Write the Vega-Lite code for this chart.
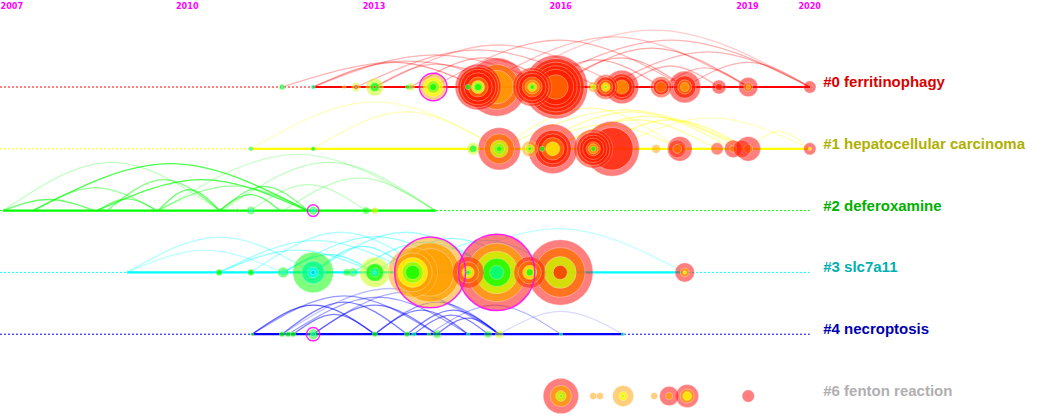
{
"$schema":"https://vega.github.io/schema/vega-lite/v6.json",
"width":1052,"height":420,"autosize":{"type":"none"},"padding":0,
"background":"white",
"config":{"view":{"stroke":null},"axis":{"grid":false}},
"datasets":{
"dash":[{"c":0,"x0":2007,"x1":2020.01},{"c":1,"x0":2007,"x1":2020.01},{"c":2,"x0":2007,"x1":2020.01},{"c":3,"x0":2007,"x1":2020.01},{"c":4,"x0":2007,"x1":2020.01}],
"solid":[{"c":0,"x0":2012.03,"x1":2020.01},{"c":1,"x0":2011.03,"x1":2020.01},{"c":2,"x0":2007.05,"x1":2014.0},{"c":3,"x0":2009.04,"x1":2018.0},{"c":4,"x0":2011.05,"x1":2017.01}],
"arcs":[
{"a":"a1","c":0,"x":2011.53,"y":0,"s":0.3},{"a":"a1","c":0,"x":2013.52,"y":-0.42,"s":0.3},{"a":"a1","c":0,"x":2015.51,"y":0,"s":0.3},
{"a":"a2","c":0,"x":2012.03,"y":0,"s":0.4},{"a":"a2","c":0,"x":2013.35,"y":-0.40,"s":0.4},{"a":"a2","c":0,"x":2014.68,"y":0,"s":0.4},
{"a":"a3","c":0,"x":2012.03,"y":0,"s":0.3},{"a":"a3","c":0,"x":2013.98,"y":-0.52,"s":0.3},{"a":"a3","c":0,"x":2015.93,"y":0,"s":0.3},
{"a":"a4","c":0,"x":2012.72,"y":0,"s":0.3},{"a":"a4","c":0,"x":2014.68,"y":-0.60,"s":0.3},{"a":"a4","c":0,"x":2016.64,"y":0,"s":0.3},
{"a":"a5","c":0,"x":2013.02,"y":0,"s":0.25},{"a":"a5","c":0,"x":2015.01,"y":-0.68,"s":0.25},{"a":"a5","c":0,"x":2016.99,"y":0,"s":0.25},
{"a":"a6","c":0,"x":2013.60,"y":0,"s":0.35},{"a":"a6","c":0,"x":2014.77,"y":-0.47,"s":0.35},{"a":"a6","c":0,"x":2015.93,"y":0,"s":0.35},
{"a":"a7","c":0,"x":2013.96,"y":0,"s":0.3},{"a":"a7","c":0,"x":2015.98,"y":-0.76,"s":0.3},{"a":"a7","c":0,"x":2018.00,"y":0,"s":0.3},
{"a":"a8","c":0,"x":2014.68,"y":0,"s":0.25},{"a":"a8","c":0,"x":2016.85,"y":-0.81,"s":0.25},{"a":"a8","c":0,"x":2019.02,"y":0,"s":0.25},
{"a":"a9","c":0,"x":2014.98,"y":0,"s":0.2},{"a":"a9","c":0,"x":2017.50,"y":-0.92,"s":0.2},{"a":"a9","c":0,"x":2020.01,"y":0,"s":0.2},
{"a":"a10","c":0,"x":2015.55,"y":0,"s":0.3},{"a":"a10","c":0,"x":2017.78,"y":-0.76,"s":0.3},{"a":"a10","c":0,"x":2020.01,"y":0,"s":0.3},
{"a":"a11","c":0,"x":2015.93,"y":0,"s":0.35},{"a":"a11","c":0,"x":2017.47,"y":-0.63,"s":0.35},{"a":"a11","c":0,"x":2019.02,"y":0,"s":0.35},
{"a":"a12","c":0,"x":2015.93,"y":0,"s":0.35},{"a":"a12","c":0,"x":2016.97,"y":-0.47,"s":0.35},{"a":"a12","c":0,"x":2018.00,"y":0,"s":0.35},
{"a":"a13","c":0,"x":2016.73,"y":0,"s":0.3},{"a":"a13","c":0,"x":2018.37,"y":-0.57,"s":0.3},{"a":"a13","c":0,"x":2020.01,"y":0,"s":0.3},
{"a":"a14","c":0,"x":2016.99,"y":0,"s":0.3},{"a":"a14","c":0,"x":2017.77,"y":-0.34,"s":0.3},{"a":"a14","c":0,"x":2018.55,"y":0,"s":0.3},
{"a":"a15","c":0,"x":2018.00,"y":0,"s":0.3},{"a":"a15","c":0,"x":2019.01,"y":-0.40,"s":0.3},{"a":"a15","c":0,"x":2020.01,"y":0,"s":0.3},
{"a":"a16","c":0,"x":2017.62,"y":0,"s":0.3},{"a":"a16","c":0,"x":2018.32,"y":-0.31,"s":0.3},{"a":"a16","c":0,"x":2019.02,"y":0,"s":0.3},
{"a":"a17","c":0,"x":2015.55,"y":0,"s":0.35},{"a":"a17","c":0,"x":2016.58,"y":-0.44,"s":0.35},{"a":"a17","c":0,"x":2017.62,"y":0,"s":0.35},
{"a":"a18","c":0,"x":2013.02,"y":0,"s":0.3},{"a":"a18","c":0,"x":2014.00,"y":-0.37,"s":0.3},{"a":"a18","c":0,"x":2014.98,"y":0,"s":0.3},
{"a":"b1","c":1,"x":2011.03,"y":1,"s":0.25},{"a":"b1","c":1,"x":2013.02,"y":0.24,"s":0.25},{"a":"b1","c":1,"x":2015.02,"y":1,"s":0.25},
{"a":"b2","c":1,"x":2012.03,"y":1,"s":0.25},{"a":"b2","c":1,"x":2013.52,"y":0.40,"s":0.25},{"a":"b2","c":1,"x":2015.02,"y":1,"s":0.25},
{"a":"b3","c":1,"x":2015.02,"y":1,"s":0.35},{"a":"b3","c":1,"x":2017.02,"y":0.37,"s":0.35},{"a":"b3","c":1,"x":2019.02,"y":1,"s":0.35},
{"a":"b4","c":1,"x":2015.51,"y":1,"s":0.35},{"a":"b4","c":1,"x":2017.14,"y":0.40,"s":0.35},{"a":"b4","c":1,"x":2018.78,"y":1,"s":0.35},
{"a":"b5","c":1,"x":2015.88,"y":1,"s":0.4},{"a":"b5","c":1,"x":2017.40,"y":0.47,"s":0.4},{"a":"b5","c":1,"x":2018.92,"y":1,"s":0.4},
{"a":"b6","c":1,"x":2016.53,"y":1,"s":0.4},{"a":"b6","c":1,"x":2017.77,"y":0.53,"s":0.4},{"a":"b6","c":1,"x":2019.02,"y":1,"s":0.4},
{"a":"b7","c":1,"x":2016.83,"y":1,"s":0.25},{"a":"b7","c":1,"x":2018.42,"y":0.50,"s":0.25},{"a":"b7","c":1,"x":2020.01,"y":1,"s":0.25},
{"a":"b8","c":1,"x":2019.02,"y":1,"s":0.25},{"a":"b8","c":1,"x":2019.51,"y":0.72,"s":0.25},{"a":"b8","c":1,"x":2020.01,"y":1,"s":0.25},
{"a":"b9","c":1,"x":2015.88,"y":1,"s":0.35},{"a":"b9","c":1,"x":2017.20,"y":0.53,"s":0.35},{"a":"b9","c":1,"x":2018.52,"y":1,"s":0.35},
{"a":"b10","c":1,"x":2015.02,"y":1,"s":0.3},{"a":"b10","c":1,"x":2016.47,"y":0.34,"s":0.3},{"a":"b10","c":1,"x":2017.92,"y":1,"s":0.3},
{"a":"b11","c":1,"x":2015.51,"y":1,"s":0.35},{"a":"b11","c":1,"x":2016.72,"y":0.61,"s":0.35},{"a":"b11","c":1,"x":2017.92,"y":1,"s":0.35},
{"a":"c1","c":2,"x":2007.05,"y":2,"s":0.6},{"a":"c1","c":2,"x":2007.78,"y":1.82,"s":0.6},{"a":"c1","c":2,"x":2008.51,"y":2,"s":0.6},
{"a":"c2","c":2,"x":2008.56,"y":2,"s":0.5},{"a":"c2","c":2,"x":2009.04,"y":1.81,"s":0.5},{"a":"c2","c":2,"x":2009.52,"y":2,"s":0.5},
{"a":"c3","c":2,"x":2007.53,"y":2,"s":0.7},{"a":"c3","c":2,"x":2009.74,"y":1.24,"s":0.7},{"a":"c3","c":2,"x":2011.95,"y":2,"s":0.7},
{"a":"c4","c":2,"x":2008.56,"y":2,"s":0.7},{"a":"c4","c":2,"x":2010.24,"y":1.50,"s":0.7},{"a":"c4","c":2,"x":2011.93,"y":2,"s":0.7},
{"a":"c5","c":2,"x":2009.54,"y":2,"s":0.6},{"a":"c5","c":2,"x":2010.04,"y":1.66,"s":0.6},{"a":"c5","c":2,"x":2010.53,"y":2,"s":0.6},
{"a":"c6","c":2,"x":2010.53,"y":2,"s":0.6},{"a":"c6","c":2,"x":2011.02,"y":1.74,"s":0.6},{"a":"c6","c":2,"x":2011.50,"y":2,"s":0.6},
{"a":"c7","c":2,"x":2007.05,"y":2,"s":0.25},{"a":"c7","c":2,"x":2008.79,"y":1.22,"s":0.25},{"a":"c7","c":2,"x":2010.53,"y":2,"s":0.25},
{"a":"c8","c":2,"x":2009.57,"y":2,"s":0.2},{"a":"c8","c":2,"x":2011.78,"y":1.09,"s":0.2},{"a":"c8","c":2,"x":2013.99,"y":2,"s":0.2},
{"a":"c9","c":2,"x":2010.57,"y":2,"s":0.25},{"a":"c9","c":2,"x":2012.28,"y":1.22,"s":0.25},{"a":"c9","c":2,"x":2013.99,"y":2,"s":0.25},
{"a":"c10","c":2,"x":2011.55,"y":2,"s":0.25},{"a":"c10","c":2,"x":2012.77,"y":1.47,"s":0.25},{"a":"c10","c":2,"x":2013.99,"y":2,"s":0.25},
{"a":"c11","c":2,"x":2008.72,"y":2,"s":0.5},{"a":"c11","c":2,"x":2009.63,"y":1.50,"s":0.5},{"a":"c11","c":2,"x":2010.53,"y":2,"s":0.5},
{"a":"c12","c":2,"x":2010.53,"y":2,"s":0.5},{"a":"c12","c":2,"x":2011.24,"y":1.61,"s":0.5},{"a":"c12","c":2,"x":2011.95,"y":2,"s":0.5},
{"a":"c13","c":2,"x":2009.52,"y":2,"s":0.4},{"a":"c13","c":2,"x":2010.73,"y":1.60,"s":0.4},{"a":"c13","c":2,"x":2011.95,"y":2,"s":0.4},
{"a":"c14","c":2,"x":2007.53,"y":2,"s":0.35},{"a":"c14","c":2,"x":2008.53,"y":1.63,"s":0.35},{"a":"c14","c":2,"x":2009.52,"y":2,"s":0.35},
{"a":"c15","c":2,"x":2011.02,"y":2,"s":0.25},{"a":"c15","c":2,"x":2011.95,"y":1.58,"s":0.25},{"a":"c15","c":2,"x":2012.88,"y":2,"s":0.25},
{"a":"d1","c":3,"x":2009.04,"y":3,"s":0.3},{"a":"d1","c":3,"x":2010.53,"y":2.43,"s":0.3},{"a":"d1","c":3,"x":2012.03,"y":3,"s":0.3},
{"a":"d2","c":3,"x":2010.52,"y":3,"s":0.35},{"a":"d2","c":3,"x":2012.07,"y":2.48,"s":0.35},{"a":"d2","c":3,"x":2013.62,"y":3,"s":0.35},
{"a":"d3","c":3,"x":2011.03,"y":3,"s":0.3},{"a":"d3","c":3,"x":2012.47,"y":2.35,"s":0.3},{"a":"d3","c":3,"x":2013.91,"y":3,"s":0.3},
{"a":"d4","c":3,"x":2011.55,"y":3,"s":0.4},{"a":"d4","c":3,"x":2013.03,"y":2.42,"s":0.4},{"a":"d4","c":3,"x":2014.52,"y":3,"s":0.4},
{"a":"d5","c":3,"x":2012.03,"y":3,"s":0.35},{"a":"d5","c":3,"x":2013.51,"y":2.35,"s":0.35},{"a":"d5","c":3,"x":2014.98,"y":3,"s":0.35},
{"a":"d6","c":3,"x":2012.67,"y":3,"s":0.45},{"a":"d6","c":3,"x":2013.83,"y":2.51,"s":0.45},{"a":"d6","c":3,"x":2014.98,"y":3,"s":0.45},
{"a":"d7","c":3,"x":2013.02,"y":3,"s":0.4},{"a":"d7","c":3,"x":2014.27,"y":2.45,"s":0.4},{"a":"d7","c":3,"x":2015.51,"y":3,"s":0.4},
{"a":"d8","c":3,"x":2013.91,"y":3,"s":0.25},{"a":"d8","c":3,"x":2015.96,"y":2.29,"s":0.25},{"a":"d8","c":3,"x":2018.00,"y":3,"s":0.25},
{"a":"d9","c":3,"x":2013.62,"y":3,"s":0.35},{"a":"d9","c":3,"x":2014.81,"y":2.48,"s":0.35},{"a":"d9","c":3,"x":2016.00,"y":3,"s":0.35},
{"a":"d10","c":3,"x":2010.52,"y":3,"s":0.4},{"a":"d10","c":3,"x":2011.77,"y":2.64,"s":0.4},{"a":"d10","c":3,"x":2013.02,"y":3,"s":0.4},
{"a":"d11","c":3,"x":2012.03,"y":3,"s":0.5},{"a":"d11","c":3,"x":2012.83,"y":2.58,"s":0.5},{"a":"d11","c":3,"x":2013.63,"y":3,"s":0.5},
{"a":"d12","c":3,"x":2011.55,"y":3,"s":0.5},{"a":"d12","c":3,"x":2012.29,"y":2.71,"s":0.5},{"a":"d12","c":3,"x":2013.02,"y":3,"s":0.5},
{"a":"d13","c":3,"x":2009.04,"y":3,"s":0.25},{"a":"d13","c":3,"x":2010.29,"y":2.64,"s":0.25},{"a":"d13","c":3,"x":2011.55,"y":3,"s":0.25},
{"a":"e1","c":4,"x":2011.05,"y":4,"s":0.6},{"a":"e1","c":4,"x":2012.04,"y":3.53,"s":0.6},{"a":"e1","c":4,"x":2013.02,"y":4,"s":0.6},
{"a":"e2","c":4,"x":2011.05,"y":4,"s":0.4},{"a":"e2","c":4,"x":2012.53,"y":3.38,"s":0.4},{"a":"e2","c":4,"x":2014.02,"y":4,"s":0.4},
{"a":"e3","c":4,"x":2011.53,"y":4,"s":0.5},{"a":"e3","c":4,"x":2012.53,"y":3.48,"s":0.5},{"a":"e3","c":4,"x":2013.54,"y":4,"s":0.5},
{"a":"e4","c":4,"x":2011.63,"y":4,"s":0.4},{"a":"e4","c":4,"x":2013.07,"y":3.40,"s":0.4},{"a":"e4","c":4,"x":2014.52,"y":4,"s":0.4},
{"a":"e5","c":4,"x":2011.71,"y":4,"s":0.5},{"a":"e5","c":4,"x":2012.37,"y":3.68,"s":0.5},{"a":"e5","c":4,"x":2013.02,"y":4,"s":0.5},
{"a":"e6","c":4,"x":2012.03,"y":4,"s":0.5},{"a":"e6","c":4,"x":2013.02,"y":3.53,"s":0.5},{"a":"e6","c":4,"x":2014.02,"y":4,"s":0.5},
{"a":"e7","c":4,"x":2012.03,"y":4,"s":0.3},{"a":"e7","c":4,"x":2013.52,"y":3.32,"s":0.3},{"a":"e7","c":4,"x":2015.02,"y":4,"s":0.3},
{"a":"e8","c":4,"x":2013.02,"y":4,"s":0.5},{"a":"e8","c":4,"x":2013.77,"y":3.61,"s":0.5},{"a":"e8","c":4,"x":2014.52,"y":4,"s":0.5},
{"a":"e9","c":4,"x":2013.02,"y":4,"s":0.4},{"a":"e9","c":4,"x":2014.02,"y":3.48,"s":0.4},{"a":"e9","c":4,"x":2015.02,"y":4,"s":0.4},
{"a":"e10","c":4,"x":2013.54,"y":4,"s":0.5},{"a":"e10","c":4,"x":2014.28,"y":3.61,"s":0.5},{"a":"e10","c":4,"x":2015.02,"y":4,"s":0.5},
{"a":"e11","c":4,"x":2014.02,"y":4,"s":0.5},{"a":"e11","c":4,"x":2014.52,"y":3.74,"s":0.5},{"a":"e11","c":4,"x":2015.02,"y":4,"s":0.5},
{"a":"e12","c":4,"x":2015.02,"y":4,"s":0.15},{"a":"e12","c":4,"x":2016.01,"y":3.63,"s":0.15},{"a":"e12","c":4,"x":2017.01,"y":4,"s":0.15},
{"a":"e13","c":4,"x":2011.53,"y":4,"s":0.25},{"a":"e13","c":4,"x":2013.27,"y":3.26,"s":0.25},{"a":"e13","c":4,"x":2015.02,"y":4,"s":0.25},
{"a":"e14","c":4,"x":2013.89,"y":4,"s":0.3},{"a":"e14","c":4,"x":2014.95,"y":3.53,"s":0.3},{"a":"e14","c":4,"x":2016.01,"y":4,"s":0.3},
{"a":"e15","c":4,"x":2013.65,"y":4,"s":0.5},{"a":"e15","c":4,"x":2014.25,"y":3.69,"s":0.5},{"a":"e15","c":4,"x":2014.84,"y":4,"s":0.5}
],
"rings":[
{"id":"0m","c":0,"x":2015.93,"g":2020,"n":81},{"id":"0m","c":0,"x":2015.93,"g":2019,"n":64},{"id":"0m","c":0,"x":2015.93,"g":2019,"n":49},{"id":"0m","c":0,"x":2015.93,"g":2019,"n":36},{"id":"0m","c":0,"x":2015.93,"g":2019,"n":25},{"id":"0m","c":0,"x":2015.93,"g":2018,"n":12},
{"id":"0k","c":0,"x":2014.98,"g":2020,"n":68.06},{"id":"0k","c":0,"x":2014.98,"g":2018,"n":40},{"id":"0k","c":0,"x":2014.98,"g":2017,"n":22},
{"id":"0j","c":0,"x":2014.68,"g":2020,"n":42.25},{"id":"0j","c":0,"x":2014.68,"g":2019,"n":33},{"id":"0j","c":0,"x":2014.68,"g":2019,"n":25},{"id":"0j","c":0,"x":2014.68,"g":2019,"n":16},{"id":"0j","c":0,"x":2014.68,"g":2018,"n":8},{"id":"0j","c":0,"x":2014.68,"g":2016,"n":3.5},{"id":"0j","c":0,"x":2014.68,"g":2014,"n":2},{"id":"0j","c":0,"x":2014.68,"g":2013,"n":1},
{"id":"0l","c":0,"x":2015.55,"g":2019,"n":30.25},{"id":"0l","c":0,"x":2015.55,"g":2019,"n":22},{"id":"0l","c":0,"x":2015.55,"g":2019,"n":15},{"id":"0l","c":0,"x":2015.55,"g":2018,"n":8},{"id":"0l","c":0,"x":2015.55,"g":2017,"n":4},{"id":"0l","c":0,"x":2015.55,"g":2015,"n":1.56},{"id":"0l","c":0,"x":2015.55,"g":2013,"n":0.39},
{"id":"0p","c":0,"x":2016.99,"g":2020,"n":22.56},{"id":"0p","c":0,"x":2016.99,"g":2019,"n":14.06},{"id":"0p","c":0,"x":2016.99,"g":2019,"n":9},{"id":"0p","c":0,"x":2016.99,"g":2017,"n":4},
{"id":"0r","c":0,"x":2018.00,"g":2020,"n":20.25},{"id":"0r","c":0,"x":2018.00,"g":2019,"n":10},{"id":"0r","c":0,"x":2018.00,"g":2018,"n":4},{"id":"0r","c":0,"x":2018.00,"g":2017,"n":1.56},
{"id":"0h","c":0,"x":2013.96,"g":2017,"n":14.06},{"id":"0h","c":0,"x":2013.96,"g":2016,"n":7.56},{"id":"0h","c":0,"x":2013.96,"g":2014,"n":3.06},{"id":"0h","c":0,"x":2013.96,"g":2013,"n":1.0},
{"id":"0o","c":0,"x":2016.73,"g":2019,"n":12.25},{"id":"0o","c":0,"x":2016.73,"g":2019,"n":8},{"id":"0o","c":0,"x":2016.73,"g":2018,"n":4},{"id":"0o","c":0,"x":2016.73,"g":2016,"n":1.56},{"id":"0o","c":0,"x":2016.73,"g":2014,"n":0.25},
{"id":"0q","c":0,"x":2017.62,"g":2019,"n":9},{"id":"0q","c":0,"x":2017.62,"g":2019,"n":5},{"id":"0q","c":0,"x":2017.62,"g":2018,"n":2.25},
{"id":"0t","c":0,"x":2019.02,"g":2020,"n":7.56},{"id":"0t","c":0,"x":2019.02,"g":2018,"n":1.56},{"id":"0t","c":0,"x":2019.02,"g":2017,"n":0.39},
{"id":"0e","c":0,"x":2013.02,"g":2015,"n":6.25},{"id":"0e","c":0,"x":2013.02,"g":2013,"n":1.56},{"id":"0e","c":0,"x":2013.02,"g":2019,"n":0.14},
{"id":"0s","c":0,"x":2018.55,"g":2020,"n":4},{"id":"0s","c":0,"x":2018.55,"g":2019,"n":1},
{"id":"0u","c":0,"x":2020.01,"g":2020,"n":3.06},
{"id":"0n","c":0,"x":2016.53,"g":2017,"n":2.25},{"id":"0n","c":0,"x":2016.53,"g":2015,"n":0.56},
{"id":"0d","c":0,"x":2012.72,"g":2015,"n":1.56},{"id":"0d","c":0,"x":2012.72,"g":2019,"n":0.39},{"id":"0d","c":0,"x":2012.72,"g":2013,"n":0.06},
{"id":"0g","c":0,"x":2013.60,"g":2015,"n":1.27},{"id":"0g","c":0,"x":2013.60,"g":2019,"n":0.25},{"id":"0g","c":0,"x":2013.60,"g":2013,"n":0.06},
{"id":"0a","c":0,"x":2011.53,"g":2013,"n":0.56},{"id":"0a","c":0,"x":2011.53,"g":2011,"n":0.09},
{"id":"0i","c":0,"x":2014.52,"g":2013,"n":0.56},
{"id":"0b","c":0,"x":2012.03,"g":2012,"n":0.39},
{"id":"0f","c":0,"x":2013.55,"g":2013,"n":0.39},
{"id":"0c","c":0,"x":2012.53,"g":2017,"n":0.25},
{"id":"1i","c":1,"x":2016.83,"g":2020,"n":60.06},{"id":"1i","c":1,"x":2016.83,"g":2019,"n":36},
{"id":"1g","c":1,"x":2015.88,"g":2020,"n":49},{"id":"1g","c":1,"x":2015.88,"g":2019,"n":27.56},{"id":"1g","c":1,"x":2015.88,"g":2019,"n":18},{"id":"1g","c":1,"x":2015.88,"g":2018,"n":10},{"id":"1g","c":1,"x":2015.88,"g":2016,"n":4},
{"id":"1d","c":1,"x":2015.02,"g":2020,"n":36},{"id":"1d","c":1,"x":2015.02,"g":2018,"n":18.06},{"id":"1d","c":1,"x":2015.02,"g":2015,"n":6.25},{"id":"1d","c":1,"x":2015.02,"g":2014,"n":2.25},{"id":"1d","c":1,"x":2015.02,"g":2013,"n":0.56},
{"id":"1h","c":1,"x":2016.53,"g":2019,"n":30.25},{"id":"1h","c":1,"x":2016.53,"g":2019,"n":22},{"id":"1h","c":1,"x":2016.53,"g":2019,"n":15},{"id":"1h","c":1,"x":2016.53,"g":2019,"n":9},{"id":"1h","c":1,"x":2016.53,"g":2018,"n":4},{"id":"1h","c":1,"x":2016.53,"g":2017,"n":2},{"id":"1h","c":1,"x":2016.53,"g":2013,"n":0.5},
{"id":"1l","c":1,"x":2017.92,"g":2020,"n":12.25},{"id":"1l","c":1,"x":2017.92,"g":2018,"n":2.25},
{"id":"1p","c":1,"x":2019.02,"g":2020,"n":12.25},{"id":"1p","c":1,"x":2019.02,"g":2018,"n":1.56},
{"id":"1k","c":1,"x":2017.88,"g":2019,"n":6.25},{"id":"1k","c":1,"x":2017.88,"g":2018,"n":1.56},
{"id":"1n","c":1,"x":2018.78,"g":2020,"n":6.25},{"id":"1n","c":1,"x":2018.78,"g":2018,"n":1},
{"id":"1o","c":1,"x":2018.92,"g":2019,"n":6.25},
{"id":"1e","c":1,"x":2015.51,"g":2017,"n":5.06},{"id":"1e","c":1,"x":2015.51,"g":2015,"n":1.56},{"id":"1e","c":1,"x":2015.51,"g":2013,"n":0.25},
{"id":"1c","c":1,"x":2014.60,"g":2015,"n":3.06},{"id":"1c","c":1,"x":2014.60,"g":2013,"n":1},{"id":"1c","c":1,"x":2014.60,"g":2012,"n":0.14},
{"id":"1m","c":1,"x":2018.52,"g":2019,"n":3.06},
{"id":"1q","c":1,"x":2020.01,"g":2020,"n":3.06},{"id":"1q","c":1,"x":2020.01,"g":2016,"n":0.25},
{"id":"1j","c":1,"x":2017.54,"g":2017,"n":1.56},
{"id":"1f","c":1,"x":2015.71,"g":2013,"n":0.56},
{"id":"1a","c":1,"x":2011.03,"g":2013,"n":0.39},{"id":"1a","c":1,"x":2011.03,"g":2011,"n":0.09},
{"id":"1b","c":1,"x":2012.03,"g":2013,"n":0.39},
{"id":"2c","c":2,"x":2012.03,"g":2013,"n":1.56},{"id":"2c","c":2,"x":2012.03,"g":2011,"n":0.39},
{"id":"2b","c":2,"x":2011.03,"g":2013,"n":1.27},{"id":"2b","c":2,"x":2011.03,"g":2011,"n":0.25},
{"id":"2d","c":2,"x":2012.88,"g":2013,"n":1},
{"id":"2e","c":2,"x":2013.02,"g":2015,"n":0.77},
{"id":"2a","c":2,"x":2010.81,"g":2013,"n":0.25},
{"id":"3k","c":3,"x":2014.98,"g":2020,"n":115.56},{"id":"3k","c":3,"x":2014.98,"g":2017,"n":68.06},{"id":"3k","c":3,"x":2014.98,"g":2015,"n":36},{"id":"3k","c":3,"x":2014.98,"g":2013,"n":16},{"id":"3k","c":3,"x":2014.98,"g":2012,"n":4},
{"id":"3i","c":3,"x":2013.91,"g":2017,"n":100},{"id":"3i","c":3,"x":2013.91,"g":2017,"n":70},{"id":"3i","c":3,"x":2013.91,"g":2017,"n":45},
{"id":"3m","c":3,"x":2016.00,"g":2020,"n":85.56},{"id":"3m","c":3,"x":2016.00,"g":2018,"n":49},{"id":"3m","c":3,"x":2016.00,"g":2015,"n":20.25},{"id":"3m","c":3,"x":2016.00,"g":2019,"n":4},
{"id":"3h","c":3,"x":2013.63,"g":2017,"n":49},{"id":"3h","c":3,"x":2013.63,"g":2017,"n":30},{"id":"3h","c":3,"x":2013.63,"g":2016,"n":18},{"id":"3h","c":3,"x":2013.63,"g":2014,"n":9},{"id":"3h","c":3,"x":2013.63,"g":2013,"n":4},
{"id":"3d","c":3,"x":2012.03,"g":2013,"n":33.06},{"id":"3d","c":3,"x":2012.03,"g":2012,"n":10.56},{"id":"3d","c":3,"x":2012.03,"g":2011,"n":2.25},{"id":"3d","c":3,"x":2012.03,"g":2010,"n":0.39},
{"id":"3j","c":3,"x":2014.52,"g":2019,"n":20.25},{"id":"3j","c":3,"x":2014.52,"g":2018,"n":9},{"id":"3j","c":3,"x":2014.52,"g":2016,"n":3.06},{"id":"3j","c":3,"x":2014.52,"g":2014,"n":1},{"id":"3j","c":3,"x":2014.52,"g":2013,"n":0.25},
{"id":"3l","c":3,"x":2015.51,"g":2019,"n":20.25},{"id":"3l","c":3,"x":2015.51,"g":2018,"n":10.56},{"id":"3l","c":3,"x":2015.51,"g":2016,"n":4},{"id":"3l","c":3,"x":2015.51,"g":2013,"n":1},
{"id":"3g","c":3,"x":2013.02,"g":2015,"n":18.06},{"id":"3g","c":3,"x":2013.02,"g":2013,"n":6.25},{"id":"3g","c":3,"x":2013.02,"g":2012,"n":1.56},{"id":"3g","c":3,"x":2013.02,"g":2011,"n":0.25},
{"id":"3n","c":3,"x":2018.00,"g":2020,"n":7.56},{"id":"3n","c":3,"x":2018.00,"g":2017,"n":1.56},{"id":"3n","c":3,"x":2018.00,"g":2016,"n":0.25},
{"id":"3c","c":3,"x":2011.55,"g":2013,"n":2.25},{"id":"3c","c":3,"x":2011.55,"g":2012,"n":0.77},{"id":"3c","c":3,"x":2011.55,"g":2011,"n":0.14},
{"id":"3f","c":3,"x":2012.67,"g":2013,"n":1.56},{"id":"3f","c":3,"x":2012.67,"g":2011,"n":0.25},
{"id":"3e","c":3,"x":2012.57,"g":2013,"n":1},
{"id":"3a","c":3,"x":2010.52,"g":2013,"n":0.77},
{"id":"3b","c":3,"x":2011.03,"g":2013,"n":0.77},
{"id":"4e","c":4,"x":2012.03,"g":2013,"n":2.25},{"id":"4e","c":4,"x":2012.03,"g":2012,"n":0.56},
{"id":"4j","c":4,"x":2014.02,"g":2013,"n":1.27},
{"id":"4m","c":4,"x":2015.02,"g":2015,"n":1.27},
{"id":"4l","c":4,"x":2014.84,"g":2013,"n":1},
{"id":"4b","c":4,"x":2011.53,"g":2013,"n":0.56},
{"id":"4c","c":4,"x":2011.63,"g":2013,"n":0.56},
{"id":"4d","c":4,"x":2011.71,"g":2013,"n":0.56},
{"id":"4f","c":4,"x":2013.02,"g":2013,"n":0.56},
{"id":"4g","c":4,"x":2013.54,"g":2013,"n":0.56},
{"id":"4h","c":4,"x":2013.65,"g":2012,"n":0.39},
{"id":"4a","c":4,"x":2011.05,"g":2013,"n":0.25},
{"id":"4i","c":4,"x":2013.89,"g":2013,"n":0.25},
{"id":"4k","c":4,"x":2014.52,"g":2012,"n":0.25},
{"id":"4n","c":4,"x":2016.01,"g":2012,"n":0.25},
{"id":"4o","c":4,"x":2017.01,"g":2012,"n":0.25},
{"id":"6a","c":5,"x":2016.01,"g":2020,"n":25},{"id":"6a","c":5,"x":2016.01,"g":2017,"n":9},{"id":"6a","c":5,"x":2016.01,"g":2015,"n":2.25},{"id":"6a","c":5,"x":2016.01,"g":2014,"n":0.25},
{"id":"6g","c":5,"x":2018.04,"g":2020,"n":10.56},{"id":"6g","c":5,"x":2018.04,"g":2017,"n":4},{"id":"6g","c":5,"x":2018.04,"g":2016,"n":1.56},
{"id":"6d","c":5,"x":2017.01,"g":2017,"n":9},{"id":"6d","c":5,"x":2017.01,"g":2016,"n":1.56},{"id":"6d","c":5,"x":2017.01,"g":2015,"n":0.25},
{"id":"6f","c":5,"x":2017.75,"g":2020,"n":7.56},{"id":"6f","c":5,"x":2017.75,"g":2017,"n":1},
{"id":"6h","c":5,"x":2019.02,"g":2020,"n":3.06},
{"id":"6b","c":5,"x":2016.53,"g":2017,"n":1},
{"id":"6c","c":5,"x":2016.64,"g":2017,"n":1},
{"id":"6e","c":5,"x":2017.51,"g":2017,"n":1}
],
"hubs":[{"c":0,"x":2013.96,"n":15.02},{"c":2,"x":2012.03,"n":2.64},{"c":3,"x":2013.91,"n":100},{"c":3,"x":2014.98,"n":115.56},{"c":4,"x":2012.03,"n":3.52}],
"labels":[{"c":0,"t":"#0 ferritinophagy"},{"c":1,"t":"#1 hepatocellular carcinoma"},{"c":2,"t":"#2 deferoxamine"},{"c":3,"t":"#3 slc7a11"},{"c":4,"t":"#4 necroptosis"},{"c":5,"t":"#6 fenton reaction"}]
},
"layer":[
{"data":{"name":"dash"},"mark":{"type":"rule","strokeDash":[2,2],"strokeWidth":1},
 "encoding":{
  "x":{"field":"x0","type":"quantitative","scale":{"domain":[2007,2023.9],"nice":false,"zero":false},
   "axis":{"orient":"top","values":[2007,2010,2013,2016,2019,2020],"format":"d","domain":false,"ticks":false,"grid":false,"labelPadding":-10,"labelColor":"#ff00ff","labelFontWeight":"bold","labelFontSize":9,"labelFont":"Liberation Sans Narrow, DejaVu Sans Condensed, sans-serif","labelFlush":true,"labelOverlap":false,"title":null}},
  "x2":{"field":"x1"},
  "y":{"field":"c","type":"quantitative","scale":{"domain":[-1.408,5.388],"reverse":true,"nice":false,"zero":false},"axis":null},
  "stroke":{"field":"c","type":"nominal","scale":{"domain":[0,1,2,3,4],"range":["#ff0000","#ffff00","#00ff00","#00ffff","#0000ff"]},"legend":null}}},
{"data":{"name":"arcs"},"mark":{"type":"line","interpolate":"natural","strokeWidth":1.3},
 "encoding":{
  "x":{"field":"x","type":"quantitative","scale":{"domain":[2007,2023.9],"nice":false,"zero":false}},
  "y":{"field":"y","type":"quantitative","scale":{"domain":[-1.408,5.388],"reverse":true,"nice":false,"zero":false},"axis":null},
  "detail":{"field":"a"},
  "stroke":{"field":"c","type":"nominal","scale":{"domain":[0,1,2,3,4],"range":["#ff0000","#ffff00","#00ff00","#00ffff","#0000ff"]},"legend":null},
  "opacity":{"field":"s","type":"quantitative","scale":{"domain":[0,1],"range":[0,1]},"legend":null}}},
{"data":{"name":"solid"},"mark":{"type":"rule","strokeWidth":2.2},
 "encoding":{
  "x":{"field":"x0","type":"quantitative","scale":{"domain":[2007,2023.9],"nice":false,"zero":false}},
  "x2":{"field":"x1"},
  "y":{"field":"c","type":"quantitative","scale":{"domain":[-1.408,5.388],"reverse":true,"nice":false,"zero":false},"axis":null},
  "stroke":{"field":"c","type":"nominal","scale":{"domain":[0,1,2,3,4],"range":["#ff0000","#ffff00","#00ff00","#00ffff","#0000ff"]},"legend":null}}},
{"data":{"name":"rings"},
 "transform":[{"joinaggregate":[{"op":"max","field":"n","as":"maxn"}],"groupby":["id"]}],
 "mark":{"type":"point","shape":"circle","filled":true,"stroke":"white","strokeWidth":0.6,"strokeOpacity":0.7},
 "encoding":{
  "x":{"field":"x","type":"quantitative","scale":{"domain":[2007,2023.9],"nice":false,"zero":false}},
  "y":{"field":"c","type":"quantitative","scale":{"domain":[-1.408,5.388],"reverse":true,"nice":false,"zero":false},"axis":null},
  "size":{"field":"n","type":"quantitative","scale":{"type":"linear","domain":[0,100],"range":[0,5027],"zero":true},"legend":null},
  "fill":{"field":"g","type":"ordinal","scale":{"domain":[2010,2011,2012,2013,2014,2015,2016,2017,2018,2019,2020],"range":["#00c8e0","#00ffff","#00ff90","#00ff00","#80ff00","#c8ff00","#ffff00","#ffa000","#ff7000","#ff2000","#ff0000"]},"legend":null},
  "opacity":{"condition":{"test":"datum.n == datum.maxn && datum.n > 0.8","value":0.5},"value":0.75}}},
{"data":{"name":"hubs"},"mark":{"type":"point","shape":"circle","filled":false,"stroke":"#ff00ff","strokeWidth":1.5,"opacity":0.85},
 "encoding":{
  "x":{"field":"x","type":"quantitative","scale":{"domain":[2007,2023.9],"nice":false,"zero":false}},
  "y":{"field":"c","type":"quantitative","scale":{"domain":[-1.408,5.388],"reverse":true,"nice":false,"zero":false},"axis":null},
  "size":{"field":"n","type":"quantitative","scale":{"type":"linear","domain":[0,100],"range":[0,5027],"zero":true},"legend":null}}},
{"data":{"name":"labels"},"mark":{"type":"text","align":"left","baseline":"middle","dx":14,"dy":-5,"font":"Liberation Sans","fontWeight":"bold","fontSize":15},
 "encoding":{
  "x":{"datum":2020,"type":"quantitative","scale":{"domain":[2007,2023.9],"nice":false,"zero":false}},
  "y":{"field":"c","type":"quantitative","scale":{"domain":[-1.408,5.388],"reverse":true,"nice":false,"zero":false},"axis":null},
  "text":{"field":"t"},
  "color":{"field":"c","type":"nominal","scale":{"domain":[0,1,2,3,4,5],"range":["#d80000","#b0b000","#00b000","#00b0b0","#0000b0","#b0b0b0"]},"legend":null}}}
],
"resolve":{"scale":{"color":"independent","fill":"independent","stroke":"independent"}}
}
